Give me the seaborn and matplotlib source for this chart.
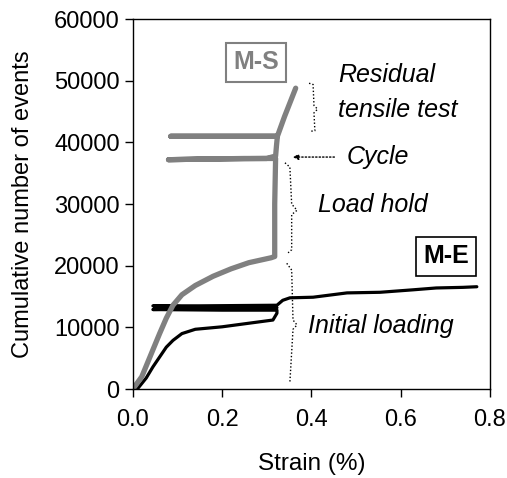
import matplotlib
matplotlib.use("Agg")
import matplotlib.pyplot as plt
import seaborn as sns

# M-S specimen (grey): initial loading, load hold, two cycles, residual tensile test
ms_strain = [0.0, 0.02, 0.04, 0.06, 0.075, 0.09, 0.11, 0.14, 0.18, 0.22, 0.26, 0.31, 0.318,
             0.318, 0.32, 0.25, 0.15, 0.08, 0.15, 0.30, 0.32, 0.322, 0.324,
             0.18, 0.085, 0.20, 0.324, 0.34, 0.365]
ms_events = [0, 2000, 5500, 9000, 11500, 13600, 15300, 16800, 18300, 19500, 20500, 21300, 21500,
             30000, 37400, 37400, 37300, 37200, 37300, 37400, 37800, 39500, 41000,
             41000, 41000, 41000, 41000, 44200, 48800]

# M-E specimen (black)
me_strain = [0.01, 0.03, 0.045, 0.06, 0.075, 0.09, 0.11, 0.14, 0.20, 0.262, 0.314, 0.323,
             0.323, 0.20, 0.045, 0.20, 0.323, 0.15, 0.045, 0.15, 0.323,
             0.336, 0.352, 0.404, 0.48, 0.554, 0.628, 0.68, 0.74, 0.771]
me_events = [0, 1800, 3600, 5200, 6800, 7900, 9000, 9700, 10100, 10700, 11200, 12300,
             12800, 12800, 12900, 13100, 13200, 13300, 13500, 13500, 13600,
             14400, 14800, 14900, 15600, 15700, 16100, 16400, 16500, 16600]

x_ticks = [0.0, 0.2, 0.4, 0.6, 0.8]
y_ticks = [0, 10000, 20000, 30000, 40000, 50000, 60000]

# dotted braces marking the test stages
brace_resid_x = [0.395, 0.404, 0.406, 0.414, 0.406, 0.408, 0.397]
brace_resid_y = [49600, 49400, 46000, 45400, 44800, 41900, 41800]
brace_hold_x = [0.341, 0.352, 0.356, 0.368, 0.356, 0.356, 0.348]
brace_hold_y = [36700, 36000, 30000, 29000, 28300, 22600, 22100]
brace_init_x = [0.345, 0.356, 0.359, 0.368, 0.359, 0.352]
brace_init_y = [20400, 19300, 11200, 10400, 9700, 1100]

sns.set_style("ticks")
plt.rcParams["font.family"] = ["Liberation Sans", "DejaVu Sans"]
plt.rcParams["text.color"] = "black"
plt.rcParams["axes.labelcolor"] = "black"
plt.rcParams["xtick.color"] = "black"
plt.rcParams["ytick.color"] = "black"

fig = plt.figure(figsize=(5.07, 4.78), dpi=100)
ax = fig.add_axes([0.262, 0.186, 0.704, 0.774])

sns.lineplot(x=me_strain, y=me_events, sort=False, estimator=None,
             color="black", linewidth=2.3, ax=ax)
sns.lineplot(x=ms_strain, y=ms_events, sort=False, estimator=None,
             color="#808080", linewidth=3.8, ax=ax)

for bx, by in [(brace_resid_x, brace_resid_y), (brace_hold_x, brace_hold_y),
               (brace_init_x, brace_init_y)]:
    ax.plot(bx, by, color="black", linestyle=(0, (1, 1.5)), linewidth=1.0)

ax.annotate("", xy=(0.352, 37630), xytext=(0.458, 37630),
            arrowprops=dict(arrowstyle="-|>", color="black", linestyle=(0, (1, 1.5)),
                            linewidth=1.0, mutation_scale=8))

fs_note = 18
ax.text(0.46, 50900, "Residual", style="italic", fontsize=fs_note, va="center")
ax.text(0.46, 45250, "tensile test", style="italic", fontsize=fs_note, va="center")
ax.text(0.48, 37630, "Cycle", style="italic", fontsize=fs_note, va="center")
ax.text(0.415, 29850, "Load hold", style="italic", fontsize=fs_note, va="center")
ax.text(0.392, 10220, "Initial loading", style="italic", fontsize=fs_note, va="center")

ax.text(0.276, 53040, "M-S", fontsize=fs_note, fontweight="bold", color="#808080",
        ha="center", va="center",
        bbox=dict(boxstyle="square,pad=0.3", facecolor="white", edgecolor="#808080", linewidth=1.5))
ax.text(0.702, 21570, "M-E", fontsize=fs_note, fontweight="bold", color="black",
        ha="center", va="center",
        bbox=dict(boxstyle="square,pad=0.3", facecolor="white", edgecolor="black", linewidth=1.2))

ax.set_xlim(0, 0.8)
ax.set_ylim(0, 60000)
ax.set_xticks(x_ticks)
ax.set_xticklabels([f"{v:.1f}" for v in x_ticks])
ax.set_yticks(y_ticks)
ax.set_yticklabels([str(v) for v in y_ticks])
ax.tick_params(axis="both", labelsize=17, direction="out", length=6, width=1, color="black",
               labelcolor="black")
ax.tick_params(axis="x", pad=8)
for s in ax.spines.values():
    s.set_visible(True)
    s.set_color("black")
    s.set_linewidth(1.0)
ax.set_xlabel("Strain (%)", fontsize=17.5, labelpad=16)
ax.set_ylabel("Cumulative number of events", fontsize=17, labelpad=14)

fig.savefig("out.png", dpi=100)
